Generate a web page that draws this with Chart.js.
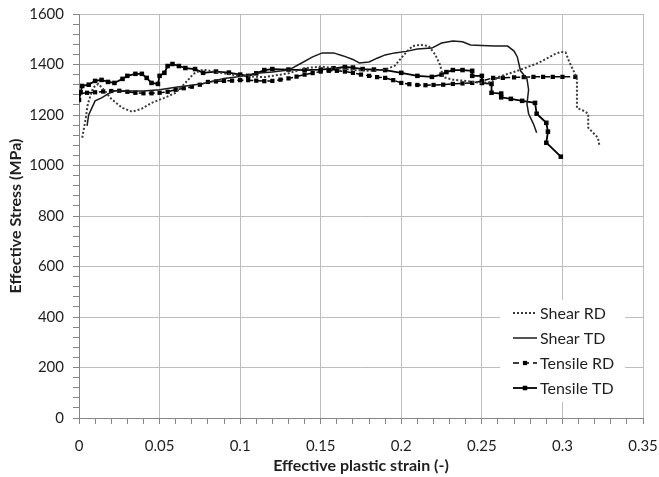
<!DOCTYPE html>
<html>
<head>
<meta charset="utf-8">
<script src="https://cdn.jsdelivr.net/npm/chart.js@4"></script>
<style>
  html, body { margin: 0; padding: 0; background: #fff; }
  #wrap { width: 659px; height: 477px; }
</style>
</head>
<body>
<div id="wrap"><canvas id="stress-strain"></canvas></div>
<script>
// values
const shearRdX = [0.002, 0.004, 0.0055, 0.0087, 0.012, 0.016, 0.02, 0.027, 0.033, 0.039, 0.045, 0.053, 0.06, 0.066, 0.071, 0.077, 0.085, 0.1, 0.115, 0.13, 0.14, 0.15, 0.16, 0.17, 0.18, 0.19, 0.196, 0.2, 0.204, 0.207, 0.212, 0.217, 0.221, 0.224, 0.226, 0.232, 0.24, 0.25, 0.256, 0.26, 0.272, 0.285, 0.295, 0.299, 0.302, 0.304, 0.308, 0.309, 0.309, 0.313, 0.316, 0.316, 0.319, 0.322, 0.323];
const shearRdY = [1110, 1180, 1244, 1308, 1323, 1296, 1264, 1228, 1213, 1225, 1248, 1268, 1288, 1327, 1363, 1380, 1370, 1355, 1350, 1365, 1385, 1392, 1385, 1378, 1375, 1380, 1395, 1426, 1455, 1473, 1478, 1473, 1440, 1400, 1350, 1340, 1335, 1327, 1330, 1350, 1375, 1406, 1440, 1450, 1448, 1414, 1360, 1340, 1228, 1217, 1205, 1150, 1130, 1110, 1078];

const shearTdX = [0.005, 0.006, 0.008, 0.01, 0.014, 0.018, 0.022, 0.03, 0.04, 0.05, 0.06, 0.07, 0.077, 0.09, 0.1, 0.11, 0.12, 0.13, 0.137, 0.145, 0.151, 0.158, 0.164, 0.17, 0.174, 0.18, 0.185, 0.19, 0.196, 0.203, 0.21, 0.219, 0.225, 0.232, 0.238, 0.243, 0.25, 0.258, 0.266, 0.27, 0.272, 0.273, 0.274, 0.278, 0.279, 0.278, 0.279, 0.282, 0.284];
const shearTdY = [1157, 1200, 1228, 1256, 1268, 1284, 1296, 1295, 1295, 1300, 1310, 1318, 1325, 1345, 1352, 1365, 1370, 1378, 1402, 1430, 1446, 1446, 1434, 1420, 1406, 1410, 1425, 1438, 1446, 1452, 1461, 1465, 1485, 1493, 1490, 1477, 1475, 1473, 1473, 1453, 1430, 1402, 1375, 1343, 1300, 1244, 1205, 1165, 1130];

const tensileRdX = [0, 0.005, 0.01, 0.015, 0.02, 0.025, 0.03, 0.035, 0.04, 0.045, 0.05, 0.055, 0.06, 0.065, 0.07, 0.075, 0.08, 0.085, 0.09, 0.095, 0.1, 0.105, 0.11, 0.115, 0.12, 0.125, 0.13, 0.135, 0.14, 0.145, 0.15, 0.155, 0.16, 0.165, 0.17, 0.175, 0.18, 0.185, 0.19, 0.195, 0.2, 0.205, 0.21, 0.215, 0.22, 0.226, 0.232, 0.238, 0.244, 0.25, 0.257, 0.263, 0.27, 0.276, 0.282, 0.288, 0.294, 0.3, 0.308];
const tensileRdY = [1284, 1288, 1290, 1293, 1295, 1296, 1292, 1288, 1286, 1286, 1288, 1292, 1300, 1306, 1312, 1320, 1331, 1333, 1335, 1336, 1338, 1338, 1336, 1334, 1335, 1340, 1345, 1352, 1360, 1366, 1372, 1375, 1375, 1372, 1367, 1360, 1355, 1350, 1347, 1338, 1327, 1322, 1319, 1318, 1319, 1320, 1323, 1325, 1327, 1335, 1347, 1347, 1349, 1350, 1351, 1351, 1351, 1351, 1351];

const tensileTdX = [0, 0.001, 0.002, 0.006, 0.01, 0.014, 0.018, 0.022, 0.027, 0.03, 0.035, 0.039, 0.042, 0.045, 0.049, 0.05, 0.053, 0.055, 0.058, 0.062, 0.066, 0.072, 0.077, 0.085, 0.093, 0.1, 0.105, 0.11, 0.115, 0.12, 0.13, 0.14, 0.15, 0.158, 0.165, 0.17, 0.176, 0.183, 0.19, 0.2, 0.21, 0.219, 0.225, 0.228, 0.232, 0.238, 0.244, 0.244, 0.25, 0.25, 0.256, 0.256, 0.262, 0.262, 0.268, 0.275, 0.283, 0.284, 0.29, 0.291, 0.29, 0.299];
const tensileTdY = [1260, 1290, 1315, 1320, 1335, 1339, 1331, 1327, 1343, 1355, 1363, 1363, 1347, 1327, 1323, 1355, 1367, 1394, 1402, 1394, 1386, 1382, 1367, 1372, 1368, 1360, 1355, 1365, 1378, 1382, 1380, 1378, 1380, 1385, 1390, 1388, 1382, 1380, 1378, 1367, 1355, 1351, 1360, 1370, 1378, 1378, 1375, 1355, 1355, 1327, 1323, 1288, 1285, 1270, 1264, 1256, 1248, 1205, 1169, 1134, 1090, 1035];

const seriesNames = ['Shear RD', 'Shear TD', 'Tensile RD', 'Tensile TD'];

// axis ticks (major ones get a label and a grid line)
const xTicks = Array.from({length: 36}, (_, i) => i / 100);
const yTicks = Array.from({length: 41}, (_, i) => i * 40);

const FONT = 'Lato, "Open Sans", sans-serif';
const TEXT = '#1f1f1f';
const GRID = '#bdbdbd';
const AXIS = '#868686';

function points(xs, ys) {
  return xs.map((x, i) => ({x: x, y: ys[i]}));
}

const isMajorX = v => Math.round(v * 100) % 5 === 0;
const isMajorY = v => Math.round(v) % 200 === 0;

// legend drawn inside the plot, bottom right, on a white box
const insideLegend = {
  id: 'insideLegend',
  afterDraw(chart) {
    const {ctx, chartArea} = chart;
    const w = 125, h = 102;
    const left = chartArea.right - 18 - w;
    const top = chartArea.bottom - 16 - h;
    ctx.save();
    ctx.fillStyle = '#fff';
    ctx.fillRect(left, top, w, h);
    ctx.font = '16px ' + FONT;
    ctx.textBaseline = 'middle';
    chart.data.datasets.forEach((ds, i) => {
      const y = top + 13 + i * 25;
      const x1 = left + 13, x2 = left + 37;
      ctx.strokeStyle = ds.borderColor;
      ctx.lineWidth = ds.borderWidth;
      ctx.setLineDash(ds.borderDash || []);
      ctx.beginPath();
      ctx.moveTo(x1, y);
      ctx.lineTo(x2, y);
      ctx.stroke();
      ctx.setLineDash([]);
      if (ds.pointRadius > 0) {
        const s = ds.pointRadius * Math.SQRT1_2;
        ctx.fillStyle = ds.pointBackgroundColor;
        ctx.fillRect((x1 + x2) / 2 - s, y - s, 2 * s, 2 * s);
      }
      ctx.fillStyle = TEXT;
      ctx.fillText(ds.label, x2 + 3, y + 1);
    });
    ctx.restore();
  }
};

const data = {
  datasets: [
    {
      label: seriesNames[0],
      data: points(shearRdX, shearRdY),
      borderColor: '#3a3a3a',
      borderWidth: 2,
      borderDash: [2, 2],
      pointRadius: 0,
      showLine: true
    },
    {
      label: seriesNames[1],
      data: points(shearTdX, shearTdY),
      borderColor: '#1a1a1a',
      borderWidth: 1.5,
      pointRadius: 0,
      showLine: true
    },
    {
      label: seriesNames[2],
      data: points(tensileRdX, tensileRdY),
      borderColor: '#000',
      borderWidth: 1.5,
      borderDash: [6, 4],
      pointStyle: 'rect',
      pointRadius: 3,
      pointBorderWidth: 0,
      pointBackgroundColor: '#000',
      showLine: true
    },
    {
      label: seriesNames[3],
      data: points(tensileTdX, tensileTdY),
      borderColor: '#000',
      borderWidth: 1.8,
      pointStyle: 'rect',
      pointRadius: 3.2,
      pointBorderWidth: 0,
      pointBackgroundColor: '#000',
      showLine: true
    }
  ]
};

const config = {
  type: 'scatter',
  data: data,
  options: {
    responsive: true,
    maintainAspectRatio: false,
    animation: false,
    layout: { padding: { top: 14, right: 16, left: 0, bottom: 0 } },
    elements: { line: { tension: 0 } },
    plugins: {
      legend: { display: false },
      tooltip: { enabled: false }
    },
    scales: {
      x: {
        type: 'linear',
        min: 0,
        max: 0.35,
        afterBuildTicks: s => { s.ticks = xTicks.map(v => ({value: v})); },
        afterFit: s => { s.height = 59; s.paddingLeft = 0; s.paddingRight = 0; },
        border: { color: AXIS, width: 1 },
        grid: {
          color: c => isMajorX(c.tick.value) && c.tick.value > 0 ? GRID : 'rgba(0,0,0,0)',
          tickColor: AXIS,
          tickLength: 6,
          lineWidth: 1
        },
        ticks: {
          autoSkip: false,
          maxRotation: 0,
          padding: 13,
          color: TEXT,
          font: { family: FONT, size: 15 },
          callback: v => isMajorX(v) ? String(Math.round(v * 100) / 100) : ''
        },
        title: {
          display: true,
          text: 'Effective plastic strain (-)',
          color: TEXT,
          font: { family: FONT, size: 16, weight: 'bold' },
          padding: { top: 0, bottom: 2 }
        }
      },
      y: {
        type: 'linear',
        min: 0,
        max: 1600,
        afterBuildTicks: s => { s.ticks = yTicks.map(v => ({value: v})); },
        afterFit: s => { s.width = 79; s.paddingTop = 0; s.paddingBottom = 0; },
        border: { color: AXIS, width: 1 },
        grid: {
          color: c => isMajorY(c.tick.value) && c.tick.value > 0 ? GRID : 'rgba(0,0,0,0)',
          tickColor: AXIS,
          tickLength: 6,
          lineWidth: 1
        },
        ticks: {
          autoSkip: false,
          padding: 9,
          color: TEXT,
          font: { family: FONT, size: 15 },
          callback: v => isMajorY(v) ? String(v) : ''
        },
        title: {
          display: true,
          text: 'Effective Stress (MPa)',
          color: TEXT,
          font: { family: FONT, size: 16, weight: 'bold' },
          padding: { top: 6, bottom: 0 }
        }
      }
    }
  },
  plugins: [insideLegend]
};

new Chart(document.getElementById('stress-strain'), config);
</script>
</body>
</html>
